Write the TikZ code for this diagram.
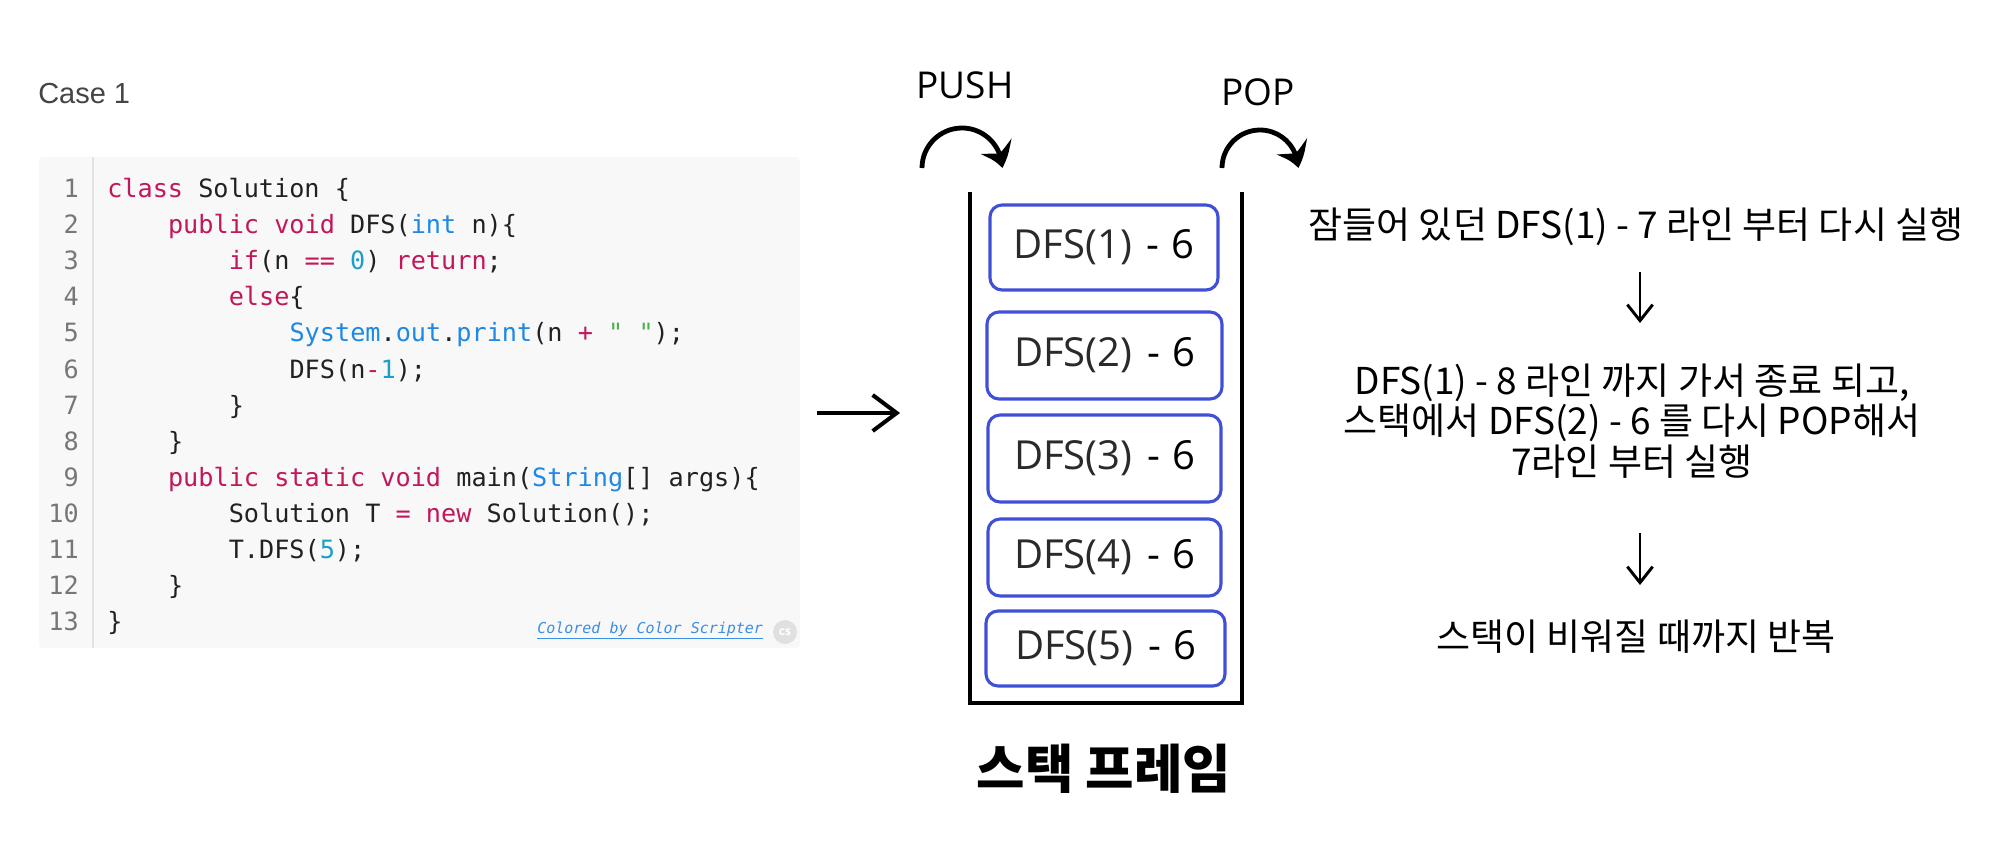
\documentclass[tikz,border=0pt]{standalone}
\usepackage{fontspec}
\usepackage{xcolor}
\setmainfont{Open Sans}
\setmonofont{DejaVu Sans Mono}
\newfontfamily\krfont{Noto Sans CJK KR}
\newfontfamily\casefont{Liberation Sans}
\usetikzlibrary{arrows.meta,bending,positioning}

\definecolor{kwd}{HTML}{C2185B}
\definecolor{tpe}{HTML}{1E88E5}
\definecolor{lit}{HTML}{1E9FC8}
\definecolor{strg}{HTML}{4CAF50}
\definecolor{codebg}{HTML}{F8F8F8}
\definecolor{gutterline}{HTML}{E2E2E2}
\definecolor{lnum}{HTML}{777777}
\definecolor{boxblue}{HTML}{3F4FD6}
\definecolor{dfsgray}{HTML}{2A2A2A}
\definecolor{credit}{HTML}{3A8EE6}

\newcommand{\kw}[1]{\textcolor{kwd}{#1}}
\newcommand{\ty}[1]{\textcolor{tpe}{#1}}
\newcommand{\lt}[1]{\textcolor{lit}{#1}}
\newcommand{\codefont}{\ttfamily\fontsize{18.9pt}{22pt}\selectfont}
\newcommand{\framefont}{\fontsize{30pt}{34pt}\selectfont}
\newcommand{\krtextfont}{\krfont\fontsize{27.75pt}{30.5pt}\selectfont}
\newcommand{\fr}[1]{{\color{dfsgray}DFS(#1)}\hspace{11pt}-\hspace{9pt}6}

\begin{document}
\begin{tikzpicture}[x=0.75pt,y=-0.75pt,
    codeline/.style={anchor=base west,inner sep=0pt,font=\codefont,text=black!87},
    lineno/.style={anchor=base east,inner sep=0pt,font=\codefont,text=lnum},
    callbox/.style={draw=boxblue,line width=2.3pt,rounded corners=9pt,fill=white,
                    font=\framefont,inner sep=0pt},
    lbl/.style={font=\fontsize{27.75pt}{30pt}\selectfont,inner sep=0pt},
    krtext/.style={font=\krtextfont,inner sep=0pt},
    curlarr/.style={line width=3.6pt,-{Stealth[length=17pt,width=25pt,inset=6pt,bend]}},
    bigarr/.style={line width=3pt,-{Straight Barb[length=18pt,width=27pt]}},
    downarr/.style={line width=2.2pt,-{Straight Barb[length=12pt,width=19pt]}},
    wall/.style={line width=2.7pt}]

  \path[use as bounding box,fill=white] (0,0) rectangle (2000,850);

  % code listing
  \node[anchor=west,inner sep=0pt,text=black!73,
        font=\casefont\fontsize{21.75pt}{24pt}\selectfont] (case) at (38,94) {Case 1};
  \node[fill=codebg,rounded corners=3pt,minimum width=570.75pt,minimum height=368.25pt]
        (code) at (419.5,402.5) {};
  \draw[gutterline,line width=2.2pt] (93,157) -- (93,648);

  \foreach \n in {1,...,13}
    \node[lineno] (n\n) at (79,{197.5+36.1*(\n-1)}) {\n};

  \node[codeline] (c1)  at (107,197.5)   {\kw{class} Solution \{};
  \node[codeline] (c2)  at (167.8,233.6) {\kw{public} \kw{void} DFS(\ty{int} n)\{};
  \node[codeline] (c3)  at (228.5,269.7) {\kw{if}(n \kw{==} \lt{0}) \kw{return};};
  \node[codeline] (c4)  at (228.5,305.8) {\kw{else}\{};
  \node[codeline] (c5)  at (289.3,341.9) {\ty{System}.\ty{out}.\ty{print}(n \kw{+} \textcolor{strg}{" "});};
  \node[codeline] (c6)  at (289.3,378)   {DFS(n\kw{-}\lt{1});};
  \node[codeline] (c7)  at (228.5,414.1) {\}};
  \node[codeline] (c8)  at (167.8,450.2) {\}};
  \node[codeline] (c9)  at (167.8,486.3) {\kw{public} \kw{static} \kw{void} main(\ty{String}[] args)\{};
  \node[codeline] (c10) at (228.5,522.4) {Solution T \kw{=} \kw{new} Solution();};
  \node[codeline] (c11) at (228.5,558.5) {T.DFS(\lt{5});};
  \node[codeline] (c12) at (167.8,594.6) {\}};
  \node[codeline] (c13) at (107,630.7)   {\}};

  \node[anchor=base west,inner sep=0pt,text=credit,
        font=\ttfamily\itshape\fontsize{11.25pt}{13pt}\selectfont]
        (credit) at (537,633) {\underline{Colored by Color Scripter}};
  \node[circle,fill=black!12,text=white,minimum size=18pt,inner sep=0pt,
        font=\bfseries\fontsize{9pt}{10pt}\selectfont] (cs) at (785,632) {cs};

  % arrow to the stack
  \coordinate (toS) at (817,413);
  \coordinate (toE) at (900,413);
  \draw[bigarr] (toS) -- (toE);

  % stack frame
  \draw[wall] (970,192) -- (970,703) -- (1242,703) -- (1242,192);
  \node[callbox,minimum width=171pt,minimum height=63.75pt]    (f1) at (1104,247.5)   {\fr{1}};
  \node[callbox,minimum width=176.25pt,minimum height=65.25pt] (f2) at (1104.5,355.5) {\fr{2}};
  \node[callbox,minimum width=174.75pt,minimum height=65.25pt] (f3) at (1104.5,458.5) {\fr{3}};
  \node[callbox,minimum width=174.75pt,minimum height=57.75pt] (f4) at (1104.5,557.5) {\fr{4}};
  \node[callbox,minimum width=179.25pt,minimum height=56.25pt] (f5) at (1105.5,648.5) {\fr{5}};
  \node[font=\krfont\bfseries\fontsize{39.5pt}{42pt}\selectfont,inner sep=0pt]
        (title) at (1104,769) {스택 프레임};

  % push / pop
  \node[lbl] (push) at (965,85) {PUSH};
  \node[lbl] (pop)  at (1258,92) {POP};
  \draw[curlarr] (922,168) arc[start angle=180,end angle=360,radius=40];
  \draw[curlarr] (1222,168) arc[start angle=180,end angle=360,radius=38];

  % explanation
  \node[krtext] (t1) at (1636,227) {잠들어 있던 DFS(1) - 7 라인 부터 다시 실행};
  \node[krtext,align=center] (t2) at (1632,421)
        {DFS(1) - 8 라인 까지 가서 종료 되고,\\스택에서 DFS(2) - 6 를 다시 POP해서\\7라인 부터 실행};
  \node[krtext] (t3) at (1636,637) {스택이 비워질 때까지 반복};

  \coordinate (d1s) at (1640,272);
  \coordinate (d1e) at (1640,323);
  \coordinate (d2s) at (1640,533);
  \coordinate (d2e) at (1640,585);
  \draw[downarr] (d1s) -- (d1e);
  \draw[downarr] (d2s) -- (d2e);
\end{tikzpicture}
\end{document}
